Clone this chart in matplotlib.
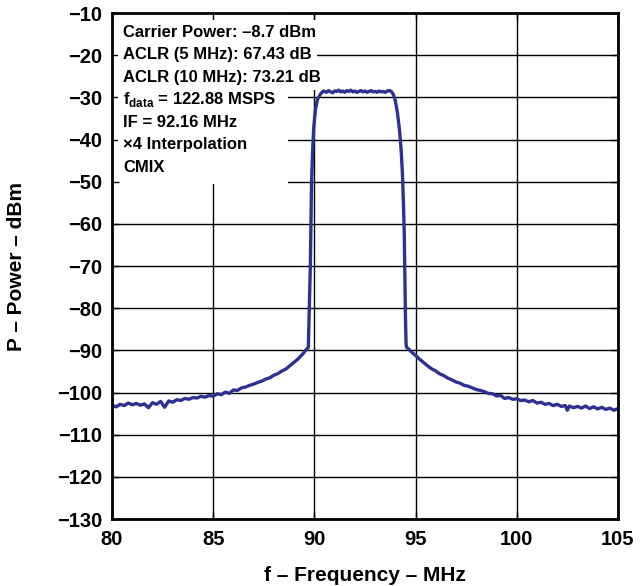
import matplotlib.pyplot as plt
from matplotlib.patches import Rectangle

plt.rcParams['font.family'] = ['Liberation Sans', 'DejaVu Sans']
plt.rcParams['font.weight'] = 'bold'
plt.rcParams['mathtext.fontset'] = 'custom'
plt.rcParams['mathtext.bf'] = 'Liberation Sans:bold'
plt.rcParams['mathtext.rm'] = 'Liberation Sans:bold'

# spectrum (MHz, dBm)
freq = [80.0, 80.2, 80.4, 80.6, 80.8, 81.0, 81.2, 81.4, 81.6, 81.8,
        82.0, 82.2, 82.4, 82.6, 82.8, 83.0, 83.2, 83.4, 83.6, 83.8,
        84.0, 84.2, 84.4, 84.6, 84.8, 85.0, 85.2, 85.4, 85.6, 85.8,
        86.0, 86.2, 86.4, 86.6, 86.8, 87.0, 87.2, 87.4, 87.6, 87.8,
        88.0, 88.2, 88.4, 88.6, 88.8, 89.0, 89.2, 89.4, 89.6, 89.7,
        89.75, 89.8, 89.83, 89.86, 89.92, 89.97, 90.05, 90.15, 90.3, 90.45,
        90.6, 90.7, 90.8, 90.9, 91.0, 91.1, 91.2, 91.3, 91.4, 91.5,
        91.6, 91.7, 91.8, 91.9, 92.0, 92.1, 92.2, 92.3, 92.4, 92.5,
        92.6, 92.7, 92.8, 92.9, 93.0, 93.1, 93.2, 93.3, 93.4, 93.5,
        93.6, 93.7, 93.8, 93.9, 94.0, 94.1, 94.2, 94.28, 94.35, 94.4,
        94.44, 94.47, 94.5, 94.53, 94.56, 94.7, 94.8, 95.0, 95.2, 95.4,
        95.6, 95.8, 96.0, 96.2, 96.4, 96.6, 96.8, 97.0, 97.2, 97.4,
        97.6, 97.8, 98.0, 98.2, 98.4, 98.6, 98.8, 99.0, 99.2, 99.4,
        99.6, 99.8, 100.0, 100.2, 100.4, 100.6, 100.8, 101.0, 101.2, 101.4,
        101.6, 101.8, 102.0, 102.2, 102.4, 102.5, 102.6, 102.8, 103.0, 103.2,
        103.4, 103.6, 103.8, 104.0, 104.2, 104.4, 104.6, 104.8, 104.9]
power = [-103.0, -103.4, -102.8, -103.1, -102.5, -102.9, -102.6, -103.0, -102.7, -103.6,
         -102.4, -102.8, -102.1, -103.5, -102.0, -102.3, -101.7, -101.9, -101.4, -101.6,
         -101.2, -101.3, -100.9, -101.1, -100.7, -100.9, -100.3, -100.5, -99.9, -100.2,
         -99.4, -99.5, -98.9, -98.7, -98.3, -98.0, -97.6, -97.3, -96.8, -96.5,
         -95.9, -95.5, -94.9, -94.4, -93.6, -92.8, -92.0, -91.0, -89.8, -89.3,
         -80.0, -70.0, -60.0, -50.0, -42.0, -37.0, -33.0, -30.5, -29.2, -28.5,
         -28.8, -28.4, -28.7, -28.9, -28.5, -28.6, -28.3, -28.7, -28.5, -28.8,
         -28.4, -28.6, -28.3, -28.7, -28.5, -28.8, -28.6, -28.4, -28.7, -28.5,
         -28.8, -28.6, -28.4, -28.7, -28.6, -28.8, -28.5, -28.7, -28.6, -28.8,
         -28.5, -28.4, -28.6, -29.3, -30.8, -33.5, -37.5, -42.0, -48.0, -55.0,
         -62.0, -72.0, -82.0, -88.5, -89.3, -89.9, -90.4, -91.2, -92.1, -92.9,
         -93.7, -94.4, -94.9, -95.6, -96.0, -96.6, -97.0, -97.5, -97.8, -98.3,
         -98.5, -98.9, -99.3, -99.5, -99.8, -100.2, -100.3, -100.8, -100.7, -101.4,
         -101.2, -101.6, -101.5, -101.9, -101.8, -102.2, -101.9, -102.5, -102.3, -102.8,
         -102.6, -103.1, -102.8, -103.3, -103.1, -104.2, -103.2, -103.6, -103.3, -103.7,
         -103.2, -103.8, -103.4, -103.9, -103.5, -104.0, -103.7, -104.2, -104.0]

xticks = [80, 85, 90, 95, 100, 105]
yticks = [-130, -120, -110, -100, -90, -80, -70, -60, -50, -40, -30, -20, -10]

notes = ['Carrier Power: –8.7 dBm',
         'ACLR (5 MHz): 67.43 dB',
         'ACLR (10 MHz): 73.21 dB',
         r'f$_{\mathbf{data}}$ = 122.88 MSPS',
         'IF = 92.16 MHz',
         '×4 Interpolation',
         'CMIX']

fig = plt.figure(figsize=(6.42, 5.86), dpi=100)
ax = fig.add_axes([0.1745, 0.1143, 0.788, 0.8635])

# grid drawn by hand so the note box can sit over it but under the ticks
for x in xticks:
    ax.axvline(x, color='black', lw=1.0, zorder=1)
for y in yticks:
    ax.axhline(y, color='black', lw=1.0, zorder=1)

# white panel behind the notes
ax.add_patch(Rectangle((0, 0.662), 0.348, 0.338, transform=ax.transAxes,
                       facecolor='white', edgecolor='none', zorder=2))

ax.plot(freq, power, color='#2e3192', lw=2.4, zorder=4)

for i, s in enumerate(notes):
    ax.text(0.022, 0.962 - i * 0.0445, s, transform=ax.transAxes,
            fontsize=12, fontweight='bold', ha='left', va='center', zorder=3,
            bbox=dict(facecolor='white', edgecolor='none', pad=3.5))

ax.set_xlim(80, 105)
ax.set_ylim(-130, -10)
ax.set_xticks(xticks)
ax.set_yticks(yticks)
ax.set_axisbelow(False)
ax.tick_params(direction='in', length=5, width=1.0, top=True, right=True,
               labelsize=14.5, color='black')
ax.tick_params(axis='x', pad=8)
ax.tick_params(axis='y', pad=7)
for lab in ax.get_xticklabels() + ax.get_yticklabels():
    lab.set_fontweight('bold')
for sp in ax.spines.values():
    sp.set_linewidth(2.0)
    sp.set_zorder(5)

ax.set_xlabel('f – Frequency – MHz', fontsize=15, fontweight='bold')
ax.set_ylabel('P – Power – dBm', fontsize=15, fontweight='bold')
ax.xaxis.set_label_coords(0.5, -0.093)
ax.yaxis.set_label_coords(-0.17, 0.5)

fig.savefig('out.png', dpi=100)
